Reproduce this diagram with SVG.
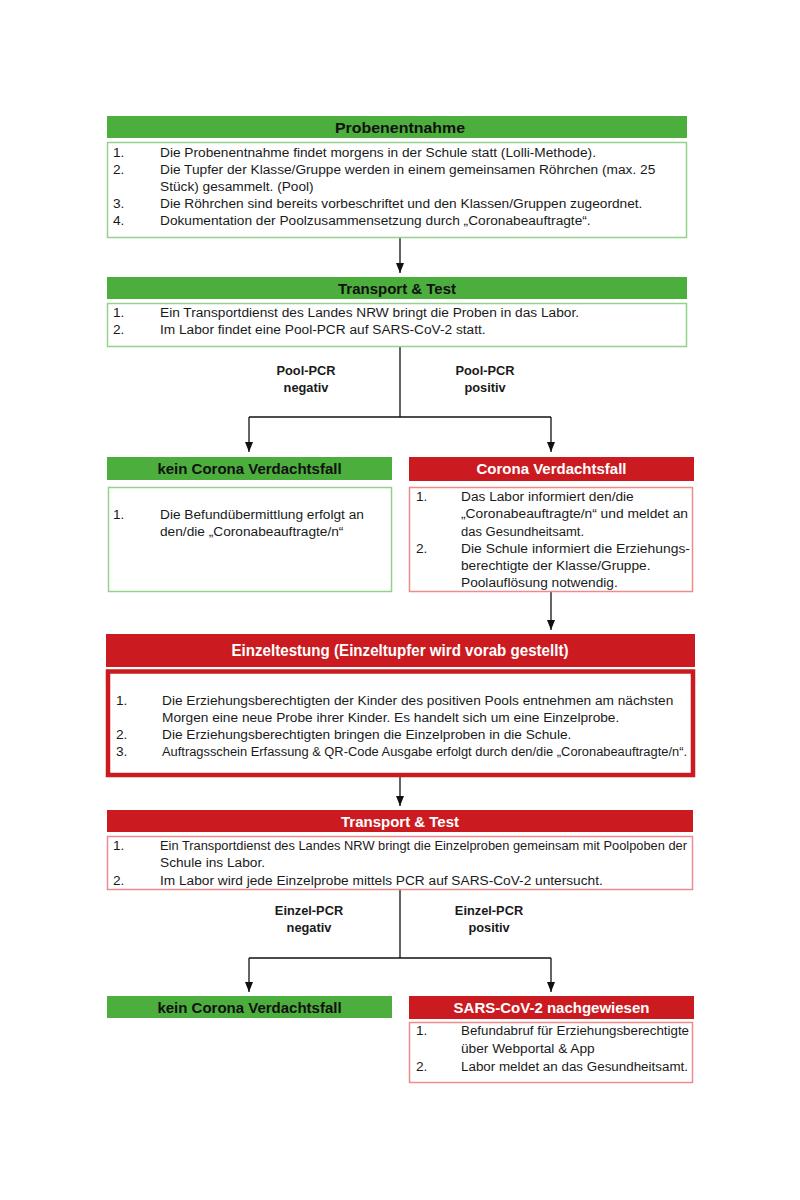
<svg xmlns="http://www.w3.org/2000/svg" width="800" height="1200" viewBox="0 0 800 1200">
<defs>
<marker id="arr" viewBox="0 0 10 8" refX="10" refY="4" markerWidth="10" markerHeight="8" markerUnits="userSpaceOnUse" orient="auto">
<path d="M0,0 L10,4 L0,8 Z" fill="#111"/>
</marker>
<style>
.bg{fill:#ffffff}
.hg{fill:#4cae3c}
.hr{fill:#cc1b20}
.bxg{fill:#fff;stroke:#93d18c;stroke-width:1.5}
.bxr{fill:#fff;stroke:#ee8c8c;stroke-width:1.5}
.bxR{fill:#fff;stroke:#cc1b20;stroke-width:4.5}
.ht{font-family:"Liberation Sans",Arial,sans-serif;font-weight:bold;font-size:15px;text-anchor:middle;dominant-baseline:central}
.htk{fill:#111}
.htw{fill:#fff}
.t{font-family:"Liberation Sans",Arial,sans-serif;font-size:13.7px;fill:#1a1a1a;dominant-baseline:central}
.lb{font-family:"Liberation Sans",Arial,sans-serif;font-weight:bold;font-size:12.8px;fill:#1a1a1a;text-anchor:middle;dominant-baseline:central}
.c{fill:none;stroke:#111;stroke-width:1.3}
</style>
</defs>
<rect class="bg" x="0" y="0" width="800" height="1200"/>

<g id="connectors">
<path class="c" d="M400,238 V273" marker-end="url(#arr)"/>
<path class="c" d="M400,347 V417"/>
<path class="c" d="M249,417 H551"/>
<path class="c" d="M249,417 V452" marker-end="url(#arr)"/>
<path class="c" d="M551,417 V452" marker-end="url(#arr)"/>
<path class="c" d="M551,592 V630" marker-end="url(#arr)"/>
<path class="c" d="M400,777 V806" marker-end="url(#arr)"/>
<path class="c" d="M400,890 V958"/>
<path class="c" d="M249,958 H551"/>
<path class="c" d="M249,958 V992" marker-end="url(#arr)"/>
<path class="c" d="M551,958 V992" marker-end="url(#arr)"/>
<text class="lb" x="306" y="370">Pool-PCR</text>
<text class="lb" x="306" y="387">negativ</text>
<text class="lb" x="485" y="370">Pool-PCR</text>
<text class="lb" x="485" y="387">positiv</text>
<text class="lb" x="309" y="910">Einzel-PCR</text>
<text class="lb" x="309" y="927">negativ</text>
<text class="lb" x="489" y="910">Einzel-PCR</text>
<text class="lb" x="489" y="927">positiv</text>
</g>

<g id="probenentnahme">
<rect class="hg" x="107" y="116" width="580" height="22"/>
<text class="ht htk" x="400" y="127" textLength="130" lengthAdjust="spacingAndGlyphs">Probenentnahme</text>
<rect class="bxg" x="107.5" y="142.5" width="579" height="95"/>
<text class="t" x="113" y="152">1.</text><text class="t" x="160" y="152">Die Probenentnahme findet morgens in der Schule statt (Lolli-Methode).</text>
<text class="t" x="113" y="169">2.</text><text class="t" x="160" y="169">Die Tupfer der Klasse/Gruppe werden in einem gemeinsamen Röhrchen (max. 25</text>
<text class="t" x="160" y="186">Stück) gesammelt. (Pool)</text>
<text class="t" x="113" y="203">3.</text><text class="t" x="160" y="203">Die Röhrchen sind bereits vorbeschriftet und den Klassen/Gruppen zugeordnet.</text>
<text class="t" x="113" y="220">4.</text><text class="t" x="160" y="220">Dokumentation der Poolzusammensetzung durch „Coronabeauftragte“.</text>
</g>

<g id="transport1">
<rect class="hg" x="107" y="277" width="580" height="22"/>
<text class="ht htk" x="397" y="288">Transport &amp; Test</text>
<rect class="bxg" x="107.5" y="303.5" width="579" height="43"/>
<text class="t" x="113" y="312">1.</text><text class="t" x="160" y="312">Ein Transportdienst des Landes NRW bringt die Proben in das Labor.</text>
<text class="t" x="113" y="329">2.</text><text class="t" x="160" y="329">Im Labor findet eine Pool-PCR auf SARS-CoV-2 statt.</text>
</g>

<g id="kein1">
<rect class="hg" x="107" y="457" width="285" height="23"/>
<text class="ht htk" x="249.5" y="468.5">kein Corona Verdachtsfall</text>
<rect class="bxg" x="108.5" y="487.5" width="283" height="104"/>
<text class="t" x="113" y="514">1.</text><text class="t" x="160" y="514">Die Befundübermittlung erfolgt an</text>
<text class="t" x="160" y="531">den/die „Coronabeauftragte/n“</text>
</g>

<g id="verdacht">
<rect class="hr" x="409" y="457" width="285" height="24"/>
<text class="ht htw" x="551.5" y="468.5">Corona Verdachtsfall</text>
<rect class="bxr" x="409.5" y="487.5" width="283" height="104"/>
<text class="t" x="416" y="496">1.</text><text class="t" x="461" y="496">Das Labor informiert den/die</text>
<text class="t" x="461" y="513" textLength="227" lengthAdjust="spacingAndGlyphs">„Coronabeauftragte/n“ und meldet an</text>
<text class="t" x="461" y="531" textLength="123" lengthAdjust="spacingAndGlyphs">das Gesundheitsamt.</text>
<text class="t" x="416" y="548">2.</text><text class="t" x="461" y="548" textLength="229" lengthAdjust="spacingAndGlyphs">Die Schule informiert die Erziehungs-</text>
<text class="t" x="461" y="565">berechtigte der Klasse/Gruppe.</text>
<text class="t" x="461" y="582">Poolauflösung notwendig.</text>
</g>

<g id="einzeltestung">
<rect class="hr" x="106" y="634" width="589" height="33"/>
<text class="ht htw" x="400" y="650" style="font-size:16.5px" textLength="337" lengthAdjust="spacingAndGlyphs">Einzeltestung (Einzeltupfer wird vorab gestellt)</text>
<rect class="bxR" x="108" y="671.5" width="585" height="103.5"/>
<text class="t" x="116" y="700">1.</text><text class="t" x="162" y="700">Die Erziehungsberechtigten der Kinder des positiven Pools entnehmen am nächsten</text>
<text class="t" x="162" y="717">Morgen eine neue Probe ihrer Kinder. Es handelt sich um eine Einzelprobe.</text>
<text class="t" x="116" y="734">2.</text><text class="t" x="162" y="734">Die Erziehungsberechtigten bringen die Einzelproben in die Schule.</text>
<text class="t" x="116" y="751">3.</text><text class="t" x="162" y="751" textLength="525" lengthAdjust="spacingAndGlyphs">Auftragsschein Erfassung &amp; QR-Code Ausgabe erfolgt durch den/die „Coronabeauftragte/n“.</text>
</g>

<g id="transport2">
<rect class="hr" x="107" y="810" width="586" height="22"/>
<text class="ht htw" x="400" y="821">Transport &amp; Test</text>
<rect class="bxr" x="107.5" y="836.5" width="585" height="53"/>
<text class="t" x="113" y="845">1.</text><text class="t" x="160" y="845" textLength="527" lengthAdjust="spacingAndGlyphs">Ein Transportdienst des Landes NRW bringt die Einzelproben gemeinsam mit Poolpoben der</text>
<text class="t" x="160" y="862">Schule ins Labor.</text>
<text class="t" x="113" y="880">2.</text><text class="t" x="160" y="880">Im Labor wird jede Einzelprobe mittels PCR auf SARS-CoV-2 untersucht.</text>
</g>

<g id="kein2">
<rect class="hg" x="107" y="996" width="285" height="22"/>
<text class="ht htk" x="249.5" y="1007">kein Corona Verdachtsfall</text>
</g>

<g id="nachgewiesen">
<rect class="hr" x="409" y="996" width="285" height="23"/>
<text class="ht htw" x="551.5" y="1007.5">SARS-CoV-2 nachgewiesen</text>
<rect class="bxr" x="409.5" y="1022.5" width="283" height="60"/>
<text class="t" x="416" y="1030">1.</text><text class="t" x="461" y="1030" textLength="228" lengthAdjust="spacingAndGlyphs">Befundabruf für Erziehungsberechtigte</text>
<text class="t" x="461" y="1048">über Webportal &amp; App</text>
<text class="t" x="416" y="1066">2.</text><text class="t" x="461" y="1066" textLength="227" lengthAdjust="spacingAndGlyphs">Labor meldet an das Gesundheitsamt.</text>
</g>
</svg>
